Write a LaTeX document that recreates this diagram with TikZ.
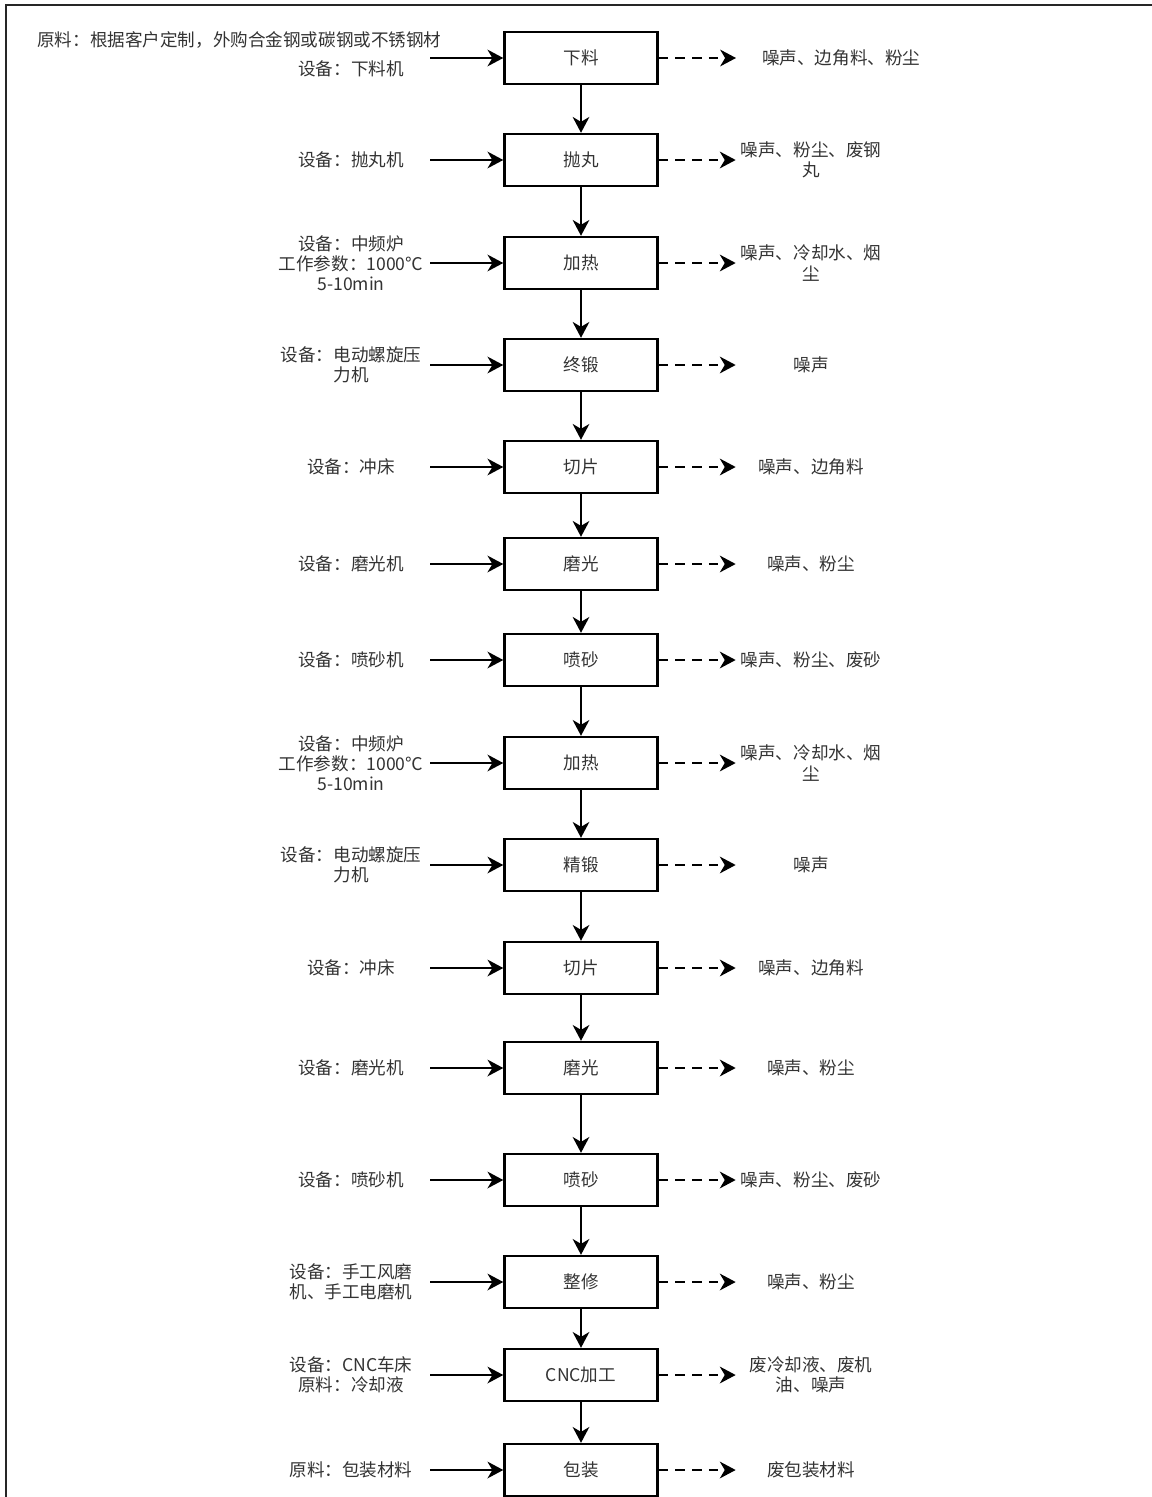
\documentclass[tikz,border=0pt]{standalone}
\usepackage{fontspec}
\setmainfont{Noto Sans CJK SC}
\usepackage{tikz}
\usetikzlibrary{arrows.meta,positioning}

\begin{document}
\begin{tikzpicture}[
  x=0.02cm, y=-0.02cm,
  every node/.style={font=\fontsize{10}{11.5}\selectfont, text=black!80},
  box/.style={rectangle, draw=black, line width=1.4pt, minimum width=3.06cm, minimum height=1.04cm, inner sep=0pt},
  equip/.style={text width=3.16cm, align=center, inner sep=0pt},
  waste/.style={text width=3.0cm, align=center, inner sep=0pt},
  arrow/.style={-{Stealth[length=9pt, width=9.5pt, inset=2.8pt]}, line width=1.2pt},
  darrow/.style={arrow, dash pattern=on 5.5pt off 4pt}
]
  \useasboundingbox (0,0) rectangle (1152,1497);
  % frame
  \draw[line width=1pt, black!85] (1152,5) -- (6,5) -- (6,1497);

  % process steps
  \node[box] (s1) at (581,58) {下料};
  \node[box] (s2) at (581,160) {抛丸};
  \node[box] (s3) at (581,263) {加热};
  \node[box] (s4) at (581,365) {终锻};
  \node[box] (s5) at (581,467) {切片};
  \node[box] (s6) at (581,564) {磨光};
  \node[box] (s7) at (581,660) {喷砂};
  \node[box] (s8) at (581,763) {加热};
  \node[box] (s9) at (581,865) {精锻};
  \node[box] (s10) at (581,968) {切片};
  \node[box] (s11) at (581,1068) {磨光};
  \node[box] (s12) at (581,1180) {喷砂};
  \node[box] (s13) at (581,1282) {整修};
  \node[box] (s14) at (581,1375) {CNC加工};
  \node[box] (s15) at (581,1470) {包装};

  % inputs
  \node[anchor=west, inner sep=0pt] (raw) at (37,40) {原料：根据客户定制，外购合金钢或碳钢或不锈钢材};
  \node[equip] (e1) at (351,69) {设备：下料机};
  \coordinate (in1) at (430,58);
  \node[equip] (e2) at (351,160) {设备：抛丸机};
  \node[equip] (e3) at (351,263) {设备：中频炉\\工作参数：1000℃\\5-10min};
  \node[equip] (e4) at (351,365) {设备：电动螺旋压\\力机};
  \node[equip] (e5) at (351,467) {设备：冲床};
  \node[equip] (e6) at (351,564) {设备：磨光机};
  \node[equip] (e7) at (351,660) {设备：喷砂机};
  \node[equip] (e8) at (351,763) {设备：中频炉\\工作参数：1000℃\\5-10min};
  \node[equip] (e9) at (351,865) {设备：电动螺旋压\\力机};
  \node[equip] (e10) at (351,968) {设备：冲床};
  \node[equip] (e11) at (351,1068) {设备：磨光机};
  \node[equip] (e12) at (351,1180) {设备：喷砂机};
  \node[equip] (e13) at (351,1282) {设备：手工风磨\\机、手工电磨机};
  \node[equip] (e14) at (351,1375) {设备：CNC车床\\原料：冷却液};
  \node[equip] (e15) at (351,1470) {原料：包装材料};

  % outputs
  \node[waste, text width=3.68cm, align=right, anchor=west] (w1) at (736,58) {噪声、边角料、粉尘};
  \node[waste] (w2) at (811,160) {噪声、粉尘、废钢\\丸};
  \node[waste] (w3) at (811,263) {噪声、冷却水、烟\\尘};
  \node[waste] (w4) at (811,365) {噪声};
  \node[waste] (w5) at (811,467) {噪声、边角料};
  \node[waste] (w6) at (811,564) {噪声、粉尘};
  \node[waste] (w7) at (811,660) {噪声、粉尘、废砂};
  \node[waste] (w8) at (811,763) {噪声、冷却水、烟\\尘};
  \node[waste] (w9) at (811,865) {噪声};
  \node[waste] (w10) at (811,968) {噪声、边角料};
  \node[waste] (w11) at (811,1068) {噪声、粉尘};
  \node[waste] (w12) at (811,1180) {噪声、粉尘、废砂};
  \node[waste] (w13) at (811,1282) {噪声、粉尘};
  \node[waste] (w14) at (811,1375) {废冷却液、废机\\油、噪声};
  \node[waste] (w15) at (811,1470) {废包装材料};

  % main flow
  \draw[arrow] (s1) -- (s2);
  \draw[arrow] (s2) -- (s3);
  \draw[arrow] (s3) -- (s4);
  \draw[arrow] (s4) -- (s5);
  \draw[arrow] (s5) -- (s6);
  \draw[arrow] (s6) -- (s7);
  \draw[arrow] (s7) -- (s8);
  \draw[arrow] (s8) -- (s9);
  \draw[arrow] (s9) -- (s10);
  \draw[arrow] (s10) -- (s11);
  \draw[arrow] (s11) -- (s12);
  \draw[arrow] (s12) -- (s13);
  \draw[arrow] (s13) -- (s14);
  \draw[arrow] (s14) -- (s15);

  % equipment in
  \draw[arrow] (in1) -- (in1 -| s1.west);
  \draw[arrow] (e2) -- (s2);
  \draw[arrow] (e3) -- (s3);
  \draw[arrow] (e4) -- (s4);
  \draw[arrow] (e5) -- (s5);
  \draw[arrow] (e6) -- (s6);
  \draw[arrow] (e7) -- (s7);
  \draw[arrow] (e8) -- (s8);
  \draw[arrow] (e9) -- (s9);
  \draw[arrow] (e10) -- (s10);
  \draw[arrow] (e11) -- (s11);
  \draw[arrow] (e12) -- (s12);
  \draw[arrow] (e13) -- (s13);
  \draw[arrow] (e14) -- (s14);
  \draw[arrow] (e15) -- (s15);

  % pollutants out
  \draw[darrow] (s1) -- (w1);
  \draw[darrow] (s2) -- (w2);
  \draw[darrow] (s3) -- (w3);
  \draw[darrow] (s4) -- (w4);
  \draw[darrow] (s5) -- (w5);
  \draw[darrow] (s6) -- (w6);
  \draw[darrow] (s7) -- (w7);
  \draw[darrow] (s8) -- (w8);
  \draw[darrow] (s9) -- (w9);
  \draw[darrow] (s10) -- (w10);
  \draw[darrow] (s11) -- (w11);
  \draw[darrow] (s12) -- (w12);
  \draw[darrow] (s13) -- (w13);
  \draw[darrow] (s14) -- (w14);
  \draw[darrow] (s15) -- (w15);
\end{tikzpicture}
\end{document}
